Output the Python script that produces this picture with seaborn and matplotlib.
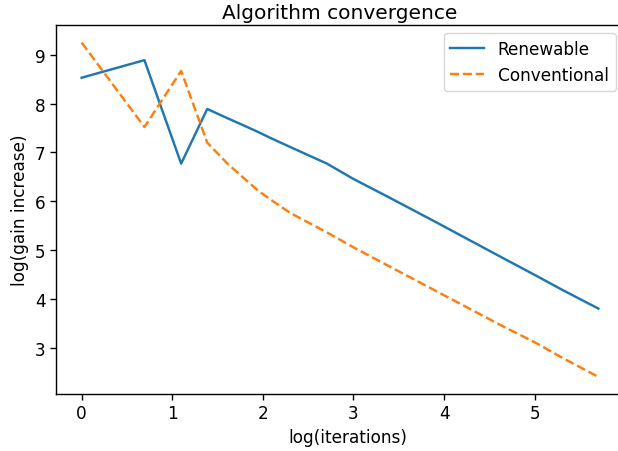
import numpy as np
import pandas as pd
import matplotlib
matplotlib.use("Agg")
import matplotlib.pyplot as plt
import seaborn as sns

iterations = [1, 2, 3, 4, 5, 6, 7, 8, 10, 15, 20, 30, 50, 100, 150, 200, 300]
renewable = [8.53, 8.89, 6.77, 7.89, 7.70, 7.55, 7.42, 7.30, 7.11, 6.77, 6.46, 6.07, 5.57, 4.88, 4.48, 4.19, 3.80]
conventional = [9.25, 7.52, 8.67, 7.20, 6.77, 6.47, 6.22, 6.04, 5.76, 5.36, 5.06, 4.66, 4.16, 3.48, 3.10, 2.80, 2.40]
series_names = ["Renewable", "Conventional"]
x_ticks = [0, 1, 2, 3, 4, 5]

logx = np.log(iterations)
df = pd.DataFrame({
    "x": np.concatenate([logx, logx]),
    "y": renewable + conventional,
    "series": [series_names[0]] * len(iterations) + [series_names[1]] * len(iterations),
})

W, H = 618.0, 452.0
fig = plt.figure(figsize=(6.18, 4.52), dpi=100)
ax = fig.add_axes([55.8 / W, 57 / H, (640 - 55.8) / W, 369 / H])
sns.lineplot(data=df, x="x", y="y", hue="series", style="series",
             hue_order=series_names, style_order=series_names,
             palette=["#1f77b4", "#ff7f0e"], dashes=["", (3.7, 1.6)],
             linewidth=1.75, ax=ax)
ax.set_xlim(-0.285, 6.163)
ax.set_ylim(2.05, 9.61)
ax.set_xticks(x_ticks)
fig.text(340 / W, 1 - 19 / H, "Algorithm convergence", fontsize=14.5, ha="center", va="baseline")
ax.set_xlabel("log(iterations)", fontsize=12.2)
ax.set_ylabel("log(gain increase)", fontsize=12.2)
ax.tick_params(labelsize=12.2, length=4, width=1)
for s in ax.spines.values():
    s.set_linewidth(1.0)
leg = ax.legend(loc="upper right", fontsize=12.2, handlelength=2.0,
                bbox_to_anchor=(615.5 / W, 1 - 34 / H), bbox_transform=fig.transFigure,
                borderaxespad=0.0)
leg.set_title(None)
fig.savefig("out.png", dpi=100)
